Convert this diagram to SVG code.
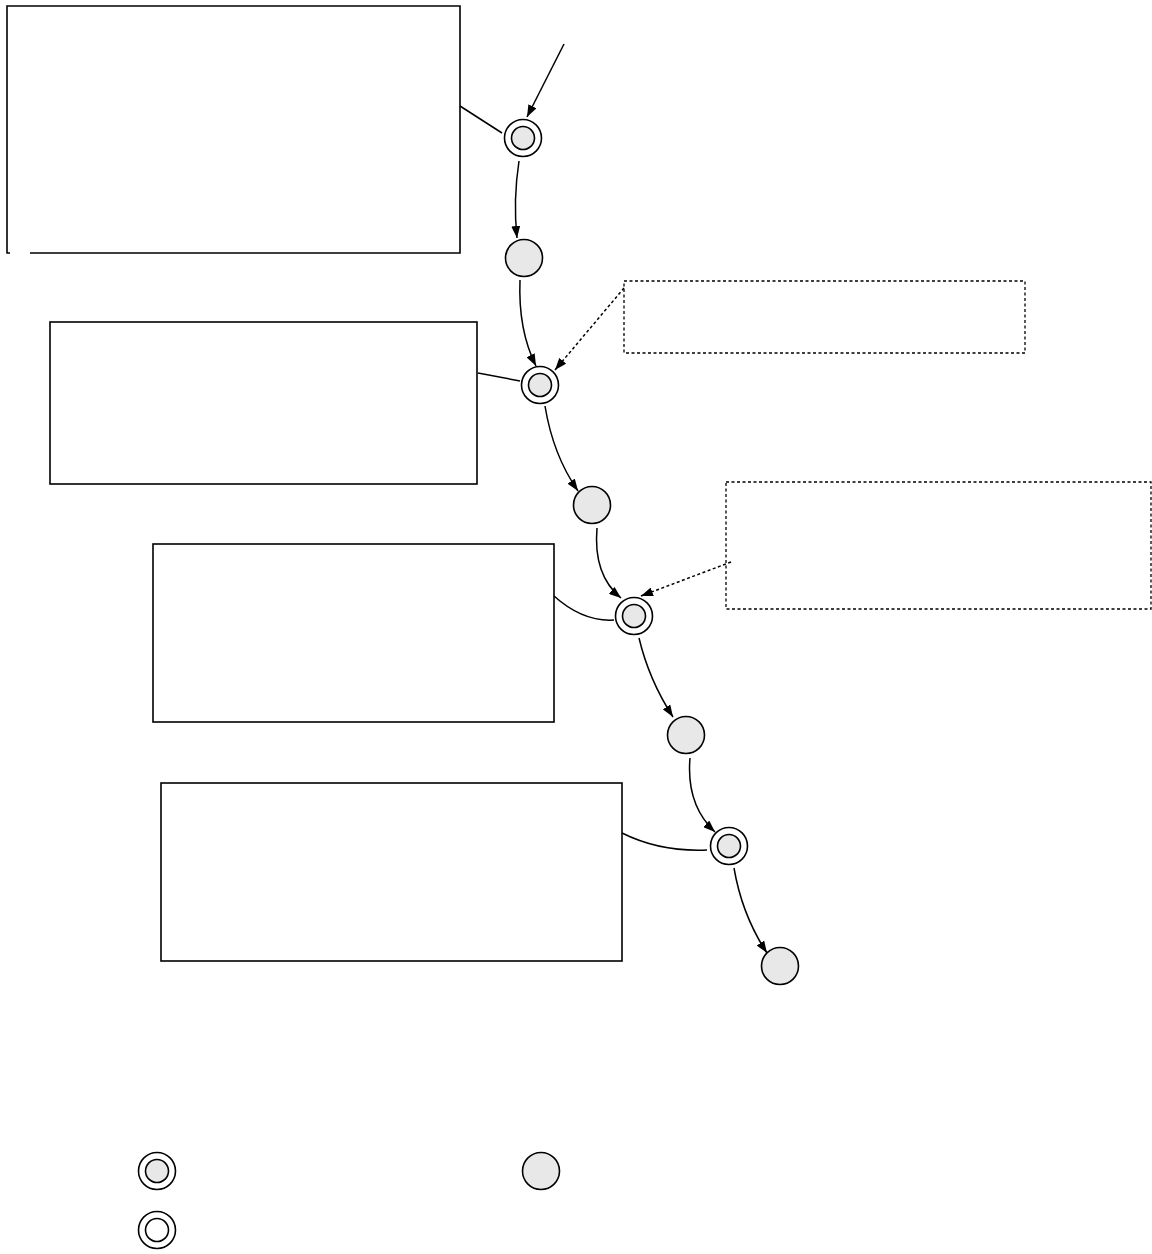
<svg xmlns="http://www.w3.org/2000/svg" width="1152" height="1254" viewBox="0 0 1152 1254">
<style>
.box{fill:#fff;stroke:#000;stroke-width:1.6}
.note{fill:#fff;stroke:#000;stroke-width:1.3;stroke-dasharray:3,2.5}
.c{fill:#e8e8e8;stroke:#000;stroke-width:1.6}
.o{fill:#fff;stroke:#000;stroke-width:1.6}
.e{fill:none;stroke:#000;stroke-width:1.5}
.d{fill:none;stroke:#000;stroke-width:1.5;stroke-dasharray:3,2.5}
</style>
<defs>
<marker id="ah" viewBox="0 0 12 9" refX="12" refY="4.5" markerWidth="12" markerHeight="9" markerUnits="userSpaceOnUse" orient="auto">
<path d="M0,0 L12,4.5 L0,9 Z" fill="#000"/>
</marker>
</defs>
<rect width="1152" height="1254" fill="#fff"/>
<g id="box1"><path class="box" d="M30,253 L460,253 L460,6 L7,6 L7,253 L10,253" fill="#fff"/></g>
<g id="box2"><rect class="box" x="50" y="322" width="427" height="162"/></g>
<g id="box3"><rect class="box" x="153" y="544" width="401" height="178"/></g>
<g id="box4"><rect class="box" x="161" y="783" width="461" height="178"/></g>
<g id="note1"><rect class="note" x="624" y="281" width="401" height="72"/></g>
<g id="note2"><rect class="note" x="726" y="482" width="425" height="127"/></g>
<g id="connectors">
<path class="e" d="M564,44 L527,117" marker-end="url(#ah)"/>
<path class="e" d="M460,106 L502,133"/>
<path class="e" d="M519,161 Q513,200 517,238" marker-end="url(#ah)"/>
<path class="e" d="M520,280 Q518,330 536,366" marker-end="url(#ah)"/>
<path class="d" d="M624,288 L555,370" marker-end="url(#ah)"/>
<path class="e" d="M478,373 L520,381"/>
<path class="e" d="M545,406 Q553,455 578,491" marker-end="url(#ah)"/>
<path class="e" d="M554,596 Q583,622 614,620"/>
<path class="e" d="M597,528 Q593,575 621,598" marker-end="url(#ah)"/>
<path class="d" d="M731,562 L641,596" marker-end="url(#ah)"/>
<path class="e" d="M639,638 Q649,680 673,717" marker-end="url(#ah)"/>
<path class="e" d="M622,833 Q660,852 707,850"/>
<path class="e" d="M690,758 Q686,805 715,832" marker-end="url(#ah)"/>
<path class="e" d="M734,868 Q742,915 767,953" marker-end="url(#ah)"/>
</g>
<g id="n1"><circle class="o" cx="523" cy="138" r="18.5"/><circle class="c" cx="523" cy="138" r="11.5"/></g>
<g id="n2"><circle class="c" cx="524" cy="258" r="18.5"/></g>
<g id="n3"><circle class="o" cx="540" cy="385" r="18.5"/><circle class="c" cx="540" cy="385" r="11.5"/></g>
<g id="n4"><circle class="c" cx="592" cy="505" r="18.5"/></g>
<g id="n5"><circle class="o" cx="634" cy="616" r="18.5"/><circle class="c" cx="634" cy="616" r="11.5"/></g>
<g id="n6"><circle class="c" cx="686" cy="735" r="18.5"/></g>
<g id="n7"><circle class="o" cx="729" cy="846" r="18.5"/><circle class="c" cx="729" cy="846" r="11.5"/></g>
<g id="n8"><circle class="c" cx="780" cy="966" r="18.5"/></g>
<g id="legend1"><circle class="o" cx="157" cy="1171" r="18.5"/><circle class="c" cx="157" cy="1171" r="11.5"/></g>
<g id="legend2"><circle class="c" cx="541" cy="1171" r="18.5"/></g>
<g id="legend3"><circle class="o" cx="157" cy="1230" r="18.5"/><circle class="o" cx="157" cy="1230" r="11.5"/></g>
</svg>
